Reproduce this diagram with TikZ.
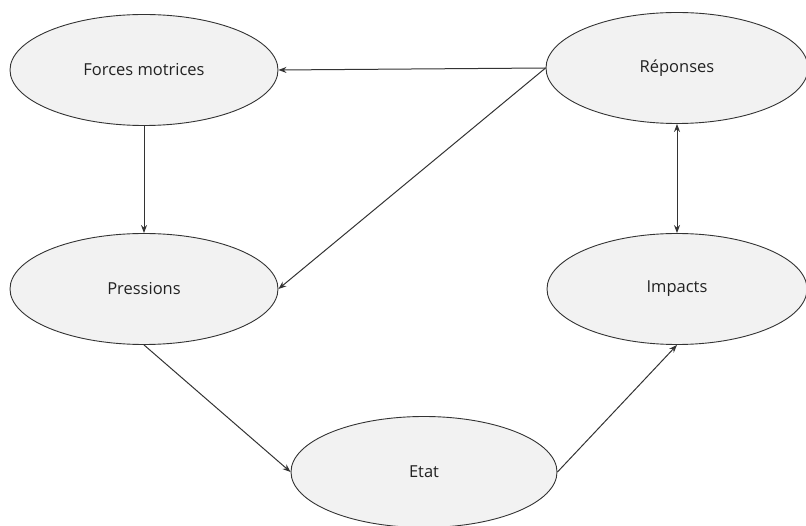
\documentclass[tikz,border=0pt]{standalone}
\usepackage{fontspec}
\setmainfont{Open Sans}
\usetikzlibrary{shapes.geometric,arrows.meta}

\definecolor{bulle}{HTML}{F2F2F2}
\definecolor{trait}{HTML}{333333}
\definecolor{texte}{HTML}{222222}

\tikzset{
    etape/.style={ellipse, draw=trait, fill=bulle, line width=0.9pt,
        minimum width=268, minimum height=111, inner sep=0pt,
        font=\fontsize{16.5}{19}\selectfont, text=texte},
    fleche/.style={-{Stealth[length=8pt,width=6pt]}, draw=trait, line width=1pt}
}

\begin{document}
\begin{tikzpicture}[x=1pt, y=-1pt]
    \useasboundingbox (0,0) rectangle (806,526);

    % Ellipses
    \node[etape] (fm) at (144,70) {Forces motrices};
    \node[etape, minimum width=262] (rep) at (677,68) {Réponses};
    \node[etape] (pr) at (144,289) {Pressions};
    \node[etape, minimum width=260] (imp) at (677,289) {Impacts};
    \node[etape, minimum width=266] (etat) at (424,472) {Etat};

    % Liens
    \draw[fleche] (rep.west) -- (fm.east);
    \draw[fleche] (rep.west) -- (pr.east);
    \draw[fleche] (fm.south) -- (pr.north);
    \draw[fleche, {Stealth[length=8pt,width=6pt]}-{Stealth[length=8pt,width=6pt]}] (rep.south) -- (imp.north);
    \draw[fleche] (pr.south) -- (etat.west);
    \draw[fleche] (etat.east) -- (imp.south);
\end{tikzpicture}
\end{document}
